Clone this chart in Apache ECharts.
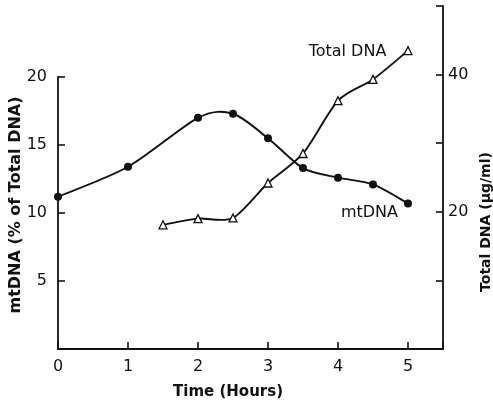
<!DOCTYPE html>
<html>
<head>
<meta charset="utf-8">
<script src="https://cdn.jsdelivr.net/npm/echarts@6/dist/echarts.min.js"></script>
<style>
  html, body { margin: 0; padding: 0; background: #fff; }
  #chart { width: 493px; height: 404px; }
</style>
</head>
<body>
<div id="chart"></div>
<script>
// values
const mtTime = [0, 1, 2, 2.5, 3, 3.5, 4, 4.5, 5];
const mtDNA = [11.2, 13.4, 17.0, 17.3, 15.5, 13.3, 12.6, 12.1, 10.7];
const totalTime = [1.5, 2, 2.5, 3, 3.5, 4, 4.5, 5];
const totalDNA = [18.1, 19.0, 19.1, 24.2, 28.5, 36.2, 39.3, 43.5];
const xTicks = ['0', '1', '2', '3', '4', '5'];
const leftTicks = ['5', '10', '15', '20'];
const rightTicks = ['20', '40'];

const ink = '#111';
const font = 'DejaVu Sans';

const chart = echarts.init(document.getElementById('chart'), null, { renderer: 'canvas' });

// last point of each series carries the series name
function pairs(xs, ys, lastLabel) {
  return xs.map(function (x, i) {
    const item = { value: [x, ys[i]] };
    if (i === xs.length - 1) item.label = lastLabel;
    return item;
  });
}

// smooth curve (catmull-rom) through the points, positioned with api.coord
function curve(xs, ys, k) {
  return function (params, api) {
    if (params.dataIndex !== 0) return null;
    const p = xs.map(function (x, i) { return api.coord([x, ys[i]]); });
    let d = 'M' + p[0][0] + ' ' + p[0][1];
    for (let i = 0; i < p.length - 1; i++) {
      const a = p[Math.max(i - 1, 0)], b = p[i], c = p[i + 1], e = p[Math.min(i + 2, p.length - 1)];
      const c1x = b[0] + (c[0] - a[0]) * k / 6, c1y = b[1] + (c[1] - a[1]) * k / 6;
      const c2x = c[0] - (e[0] - b[0]) * k / 6, c2y = c[1] - (e[1] - b[1]) * k / 6;
      d += ' C' + c1x + ' ' + c1y + ' ' + c2x + ' ' + c2y + ' ' + c[0] + ' ' + c[1];
    }
    return {
      type: 'path',
      shape: { pathData: d },
      style: { stroke: ink, fill: null, lineWidth: 1.9 }
    };
  };
}

const labelStyle = { show: true, color: ink, fontFamily: font, fontSize: 16, position: 'left' };

const axisLine = { show: true, onZero: false, lineStyle: { color: ink, width: 1.8 } };
const axisTick = { show: true, inside: true, length: 7, lineStyle: { color: ink, width: 1.6 } };

const option = {
  backgroundColor: '#fff',
  animation: false,
  grid: [
    { left: 58, right: 50, top: 77, bottom: 55 },
    { left: 58, right: 50, top: 6, bottom: 55 }
  ],
  xAxis: [
    {
      type: 'value', gridIndex: 0, min: 0, max: 5.5, interval: 1,
      axisLine: axisLine, axisTick: axisTick,
      axisLabel: {
        color: ink, fontFamily: font, fontSize: 16, margin: 10,
        formatter: function (v) { return xTicks.indexOf(String(v)) >= 0 ? String(v) : ''; }
      },
      splitLine: { show: false }
    },
    { type: 'value', gridIndex: 1, min: 0, max: 5.5, interval: 1, show: false }
  ],
  yAxis: [
    {
      type: 'value', gridIndex: 0, min: 0, max: 20, interval: 5,
      axisLine: axisLine, axisTick: axisTick,
      axisLabel: {
        color: ink, fontFamily: font, fontSize: 16, margin: 11,
        formatter: function (v) { return leftTicks.indexOf(String(v)) >= 0 ? String(v) : ''; }
      },
      splitLine: { show: false }
    },
    {
      type: 'value', gridIndex: 1, position: 'right', min: 0, max: 50, interval: 10,
      axisLine: axisLine, axisTick: axisTick,
      axisLabel: {
        color: ink, fontFamily: font, fontSize: 16, margin: 5,
        formatter: function (v) { return rightTicks.indexOf(String(v)) >= 0 ? String(v) : ''; }
      },
      splitLine: { show: false }
    }
  ],
  series: [
    {
      type: 'custom', xAxisIndex: 0, yAxisIndex: 0, z: 2,
      data: pairs(mtTime, mtDNA),
      renderItem: curve(mtTime, mtDNA, 0.85)
    },
    {
      type: 'custom', xAxisIndex: 1, yAxisIndex: 1, z: 2,
      data: pairs(totalTime, totalDNA),
      renderItem: curve(totalTime, totalDNA, 0.8)
    },
    {
      name: 'mtDNA', type: 'scatter', xAxisIndex: 0, yAxisIndex: 0, z: 3,
      data: pairs(mtTime, mtDNA, Object.assign({}, labelStyle, { formatter: 'mtDNA', distance: 6, offset: [0, 9] })),
      symbol: 'circle', symbolSize: 8,
      itemStyle: { color: ink, opacity: 1 }
    },
    {
      name: 'Total DNA', type: 'scatter', xAxisIndex: 1, yAxisIndex: 1, z: 3,
      data: pairs(totalTime, totalDNA, Object.assign({}, labelStyle, { formatter: 'Total DNA', distance: 17, offset: [0, 1] })),
      symbol: 'triangle', symbolSize: 8,
      itemStyle: { color: '#fff', borderColor: ink, borderWidth: 1.3, opacity: 1 }
    }
  ],
  graphic: [
    {
      type: 'text', x: 16, y: 205, rotation: Math.PI / 2,
      style: { text: 'mtDNA (% of Total DNA)', fill: ink, font: 'bold 16px "DejaVu Sans"', align: 'center', verticalAlign: 'middle' }
    },
    {
      type: 'text', x: 486, y: 222, rotation: Math.PI / 2,
      style: { text: 'Total DNA (µg/ml)', fill: ink, font: 'bold 14px "DejaVu Sans"', align: 'center', verticalAlign: 'middle' }
    },
    {
      type: 'text', x: 228, y: 392,
      style: { text: 'Time (Hours)', fill: ink, font: 'bold 15px "DejaVu Sans"', align: 'center', verticalAlign: 'middle' }
    }
  ]
};

chart.setOption(option);
</script>
</body>
</html>
